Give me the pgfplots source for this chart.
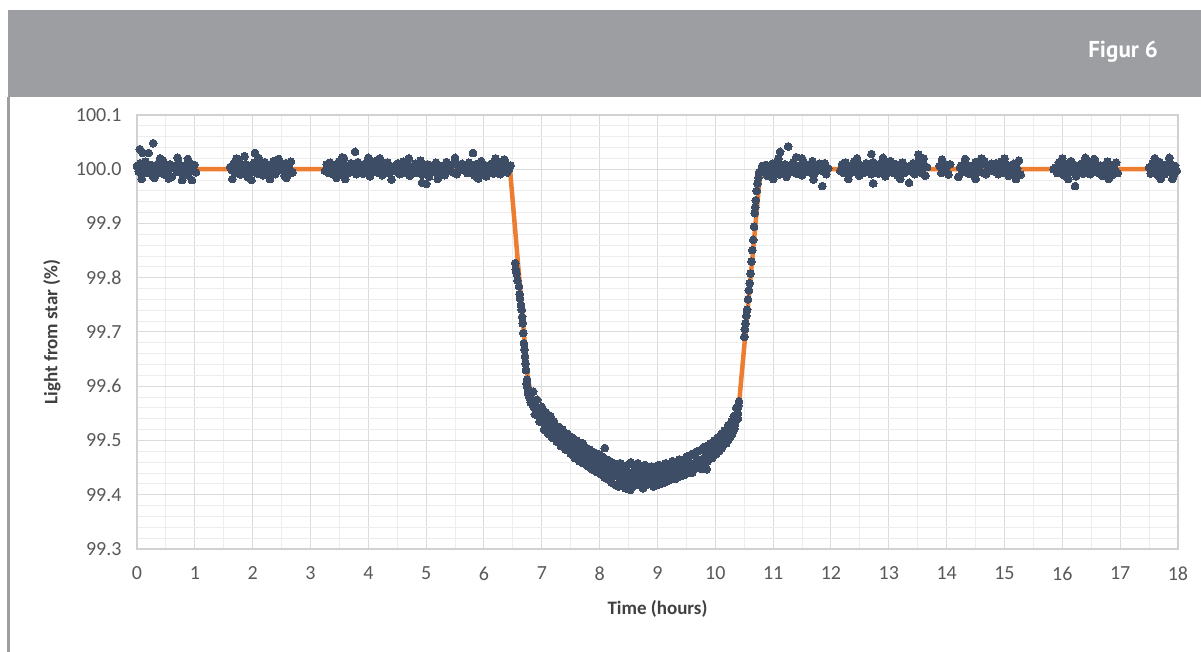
\documentclass[border=0pt]{standalone}
\usepackage{pgfplots}
\pgfplotsset{compat=1.18}
\usepackage{pgfplotstable}
\usepackage{fontspec}
\setmainfont{Carlito}
\newfontfamily\figfont{PT Sans}
\definecolor{hdr}{HTML}{9D9EA2}
\definecolor{dotc}{HTML}{3D4D66}
\definecolor{lineo}{HTML}{ED7D31}
\definecolor{tickc}{HTML}{595959}
\definecolor{labc}{HTML}{404040}

\pgfplotstableread{
t v
0 100.000
6.45 100.000
6.76 99.610
6.85 99.575
7.0 99.545
7.2 99.515
7.5 99.488
8.0 99.456
8.5 99.440
9.0 99.436
9.5 99.446
10.0 99.472
10.2 99.498
10.3 99.525
10.38 99.560
10.42 99.580
10.76 99.975
10.80 100.000
18 100.000
}\model

\pgfplotstableread{
t v
0.00 100.006
0.03 99.996
0.06 100.011
0.09 99.991
0.12 100.002
0.15 100.014
0.18 99.994
0.21 100.000
0.24 100.008
0.27 99.988
0.30 100.004
0.33 99.998
0.36 100.010
0.39 99.993
0.42 100.001
0.45 100.016
0.48 99.990
0.51 100.005
0.54 99.997
0.57 100.009
0.60 99.986
0.63 100.003
0.66 100.007
0.69 99.995
0.72 100.012
0.75 99.999
0.78 99.992
0.81 100.006
0.84 100.000
0.87 99.989
0.90 100.013
0.93 99.996
0.96 100.002
0.99 100.008
1.02 99.994
0.05 100.037
0.10 100.030
0.20 100.030
0.28 100.048
0.30 99.984
0.78 99.980
0.95 99.980
0.08 99.982
0.40 100.020
0.55 99.983
0.70 100.021
0.88 100.019
1.61 100.004
1.64 99.998
1.67 100.010
1.70 99.993
1.73 100.001
1.76 100.016
1.79 99.990
1.82 100.005
1.85 99.997
1.88 100.009
1.91 99.986
1.94 100.003
1.97 100.007
2.00 99.995
2.03 100.012
2.06 99.999
2.09 99.992
2.12 100.006
2.15 100.000
2.18 99.989
2.21 100.013
2.24 99.996
2.27 100.002
2.30 100.008
2.33 99.994
2.36 100.015
2.39 99.991
2.42 100.004
2.45 99.998
2.48 100.010
2.51 100.006
2.54 99.996
2.57 100.011
2.60 99.991
2.63 100.002
2.66 100.014
2.69 99.994
1.65 99.982
1.98 99.980
2.04 100.030
1.86 100.024
2.58 99.984
2.55 99.988
1.72 100.020
2.10 100.021
2.30 99.982
2.45 100.019
3.25 99.997
3.28 100.009
3.31 99.993
3.34 100.012
3.37 100.001
3.40 99.990
3.43 100.005
3.46 99.999
3.49 100.014
3.52 99.995
3.55 100.003
3.58 99.988
3.61 100.007
3.64 100.000
3.67 99.994
3.70 100.011
3.73 99.998
3.76 100.006
3.79 99.991
3.82 100.013
3.85 99.996
3.88 100.002
3.91 99.992
3.94 100.010
3.97 99.999
4.00 100.004
4.03 99.987
4.06 100.008
4.09 99.997
4.12 100.015
4.15 99.994
4.18 100.001
4.21 100.009
4.24 99.989
4.27 100.005
4.30 99.998
4.33 100.012
4.36 99.993
4.39 100.003
4.42 100.000
4.45 100.006
4.48 99.996
4.51 100.011
4.54 99.991
4.57 100.002
4.60 100.014
4.63 99.994
4.66 100.000
4.69 100.008
4.72 99.988
4.75 100.004
4.78 99.998
4.81 100.010
4.84 99.993
4.87 100.001
4.90 100.016
4.93 99.990
4.96 100.005
4.99 99.997
5.02 100.009
5.05 99.986
5.08 100.003
5.11 100.007
5.14 99.995
5.17 100.012
5.20 99.999
5.23 99.992
5.26 100.006
5.29 100.000
5.32 99.989
5.35 100.013
5.38 99.996
5.41 100.002
5.44 100.008
5.47 99.994
5.50 100.015
5.53 99.991
5.56 100.004
5.59 99.998
5.62 100.010
5.65 100.000
5.68 100.003
5.71 99.993
5.74 100.012
5.77 99.998
5.80 100.005
5.83 99.989
5.86 100.009
5.89 100.001
5.92 99.994
5.95 100.015
5.98 99.997
6.01 100.008
6.04 99.987
6.07 100.004
6.10 99.999
6.13 100.010
6.16 99.992
6.19 100.002
6.22 99.996
6.25 100.013
6.28 99.991
6.31 100.006
6.34 99.998
6.37 100.011
6.40 99.994
6.43 100.000
6.46 100.007
3.45 99.984
3.55 100.022
3.77 100.032
3.58 100.020
4.93 99.975
5.00 99.973
5.81 100.030
4.20 100.020
6.35 100.018
3.60 99.982
4.00 100.021
4.40 99.981
4.70 100.020
5.20 99.982
5.50 100.021
5.90 99.983
6.20 100.020
6.54 99.827
6.55 99.815
6.565 99.808
6.58 99.795
6.606 99.784
6.615 99.770
6.623 99.762
6.64 99.750
6.652 99.741
6.66 99.728
6.67 99.716
6.68 99.698
6.69 99.679
6.70 99.668
6.71 99.655
6.718 99.642
6.726 99.630
6.737 99.605
6.745 99.612
6.75 99.598
6.76 99.590
6.77 99.585
6.78 99.592
6.79 99.578
6.80 99.583
6.81 99.570
6.82 99.575
6.84 99.566
6.85 99.574
6.87 99.560
6.89 99.565
6.91 99.552
6.93 99.558
6.95 99.545
6.97 99.553
7.00 99.540
7.02 99.548
7.05 99.530
7.08 99.538
7.10 99.524
7.13 99.533
7.16 99.518
7.19 99.527
7.22 99.510
7.25 99.520
7.28 99.503
7.31 99.512
7.34 99.498
7.37 99.507
7.40 99.495
7.43 99.502
7.46 99.489
7.49 99.500
7.52 99.485
7.55 99.494
7.58 99.478
7.61 99.490
7.64 99.481
7.67 99.488
7.70 99.472
7.71 99.495
7.73 99.480
7.76 99.466
7.79 99.475
7.82 99.462
7.85 99.472
7.88 99.458
7.91 99.468
7.94 99.454
7.97 99.463
8.00 99.450
8.03 99.460
8.06 99.445
8.09 99.486
8.10 99.455
8.13 99.442
8.16 99.452
8.19 99.438
8.22 99.448
8.25 99.434
8.28 99.450
8.31 99.440
8.34 99.430
8.37 99.446
8.40 99.436
8.43 99.425
8.46 99.444
8.49 99.433
8.52 99.420
8.53 99.409
8.55 99.440
8.58 99.428
8.61 99.438
8.64 99.426
8.67 99.445
8.70 99.432
8.73 99.420
8.76 99.440
8.79 99.429
8.82 99.447
8.85 99.424
8.88 99.436
8.91 99.418
8.94 99.441
8.97 99.430
9.00 99.422
9.03 99.440
9.06 99.430
9.09 99.446
9.12 99.434
9.15 99.425
9.18 99.443
9.21 99.436
9.24 99.450
9.27 99.438
9.30 99.429
9.33 99.447
9.36 99.440
9.39 99.455
9.42 99.443
9.45 99.436
9.48 99.452
9.51 99.446
9.54 99.460
9.57 99.448
9.60 99.441
9.63 99.458
9.66 99.452
9.69 99.466
9.72 99.455
9.75 99.448
9.78 99.466
9.81 99.460
9.84 99.474
9.85 99.447
9.87 99.462
9.90 99.478
9.93 99.470
9.96 99.484
9.99 99.474
10.02 99.490
10.05 99.480
10.08 99.495
10.11 99.486
10.14 99.502
10.17 99.494
10.20 99.510
10.23 99.502
10.26 99.520
10.29 99.512
10.31 99.530
10.33 99.522
10.35 99.545
10.37 99.538
10.38 99.558
10.39 99.550
10.40 99.565
10.41 99.572
6.85 99.590
6.88 99.548
6.92 99.575
6.96 99.535
7.00 99.562
7.04 99.520
7.07 99.552
7.11 99.512
7.15 99.545
7.18 99.505
7.21 99.535
7.26 99.498
7.30 99.525
7.33 99.490
7.36 99.520
7.41 99.483
7.45 99.512
7.50 99.476
7.53 99.505
7.57 99.468
7.60 99.500
7.65 99.462
7.68 99.495
7.72 99.458
7.75 99.488
7.80 99.452
7.83 99.483
7.87 99.447
7.90 99.478
7.95 99.442
7.98 99.475
8.02 99.438
8.05 99.470
8.08 99.432
8.12 99.465
8.15 99.428
8.18 99.462
8.21 99.422
8.24 99.458
8.27 99.418
8.30 99.455
8.33 99.415
8.36 99.458
8.39 99.420
8.42 99.452
8.45 99.412
8.48 99.455
8.51 99.430
8.54 99.460
8.57 99.415
8.60 99.452
8.63 99.418
8.66 99.458
8.69 99.422
8.72 99.450
8.75 99.412
8.78 99.455
8.81 99.418
8.84 99.450
8.87 99.420
8.90 99.452
8.93 99.415
8.96 99.448
8.99 99.418
9.02 99.455
9.05 99.420
9.08 99.452
9.11 99.422
9.14 99.458
9.17 99.425
9.20 99.455
9.23 99.428
9.26 99.462
9.29 99.430
9.32 99.458
9.35 99.432
9.38 99.465
9.41 99.435
9.44 99.462
9.47 99.438
9.50 99.470
9.53 99.440
9.56 99.472
9.59 99.445
9.62 99.476
9.65 99.448
9.68 99.480
9.71 99.452
9.74 99.482
9.77 99.455
9.80 99.488
9.83 99.460
9.86 99.490
9.89 99.465
9.92 99.495
9.95 99.468
9.98 99.500
10.01 99.475
10.04 99.505
10.07 99.482
10.10 99.512
10.13 99.490
10.16 99.518
10.19 99.495
10.22 99.528
10.25 99.505
10.28 99.535
10.30 99.515
10.32 99.545
10.34 99.530
10.36 99.560
10.39 99.540
10.50 99.691
10.51 99.705
10.52 99.716
10.535 99.730
10.55 99.741
10.565 99.760
10.58 99.777
10.595 99.790
10.61 99.808
10.625 99.830
10.64 99.851
10.655 99.870
10.67 99.894
10.68 99.919
10.69 99.930
10.70 99.943
10.715 99.960
10.73 99.974
10.745 99.985
10.76 99.995
10.78 99.994
10.81 100.006
10.84 100.000
10.87 100.008
10.90 99.988
10.93 100.004
10.96 99.998
10.99 100.010
11.02 99.993
11.05 100.001
11.08 100.016
11.11 99.990
11.14 100.005
11.17 99.997
11.20 100.009
11.23 99.986
11.26 100.003
11.29 100.007
11.32 99.995
11.35 100.012
11.38 99.999
11.41 99.992
11.44 100.006
11.47 100.000
11.50 99.989
11.53 100.013
11.56 99.996
11.59 100.002
11.62 100.008
11.65 99.994
11.68 100.015
11.71 99.991
11.74 100.004
11.77 99.998
11.80 100.010
11.83 100.006
11.86 99.996
11.89 100.011
11.92 99.991
11.95 100.002
11.09 100.020
11.12 100.032
11.26 100.042
11.85 99.969
11.50 100.020
11.00 99.982
11.40 100.022
11.70 99.981
12.16 99.997
12.19 100.009
12.22 99.993
12.25 100.012
12.28 100.001
12.31 99.990
12.34 100.005
12.37 99.999
12.40 100.014
12.43 99.995
12.46 100.003
12.49 99.988
12.52 100.007
12.55 100.000
12.58 99.994
12.61 100.011
12.64 99.998
12.67 100.006
12.70 99.991
12.73 100.013
12.76 99.996
12.79 100.002
12.82 99.992
12.85 100.010
12.88 99.999
12.91 100.004
12.94 99.987
12.97 100.008
13.00 99.997
13.03 100.015
13.06 99.994
13.09 100.001
13.12 100.009
13.15 99.989
13.18 100.005
13.21 99.998
13.24 100.012
13.27 99.993
13.30 100.003
13.33 100.000
13.36 100.006
13.39 99.996
13.42 100.011
13.45 99.991
13.48 100.002
13.51 100.014
13.54 99.994
13.57 100.000
13.60 100.008
13.63 99.988
13.66 100.004
12.70 100.028
13.51 100.027
12.73 99.974
13.35 99.975
12.45 100.020
12.30 99.982
12.90 100.021
13.20 99.982
13.60 100.020
13.88 100.006
13.91 99.993
13.94 100.012
13.97 99.998
14.00 100.004
14.03 99.990
14.06 100.009
13.92 100.018
14.20 99.986
14.23 100.003
14.26 100.007
14.29 99.995
14.32 100.012
14.35 99.999
14.38 99.992
14.41 100.006
14.44 100.000
14.47 99.989
14.50 100.013
14.53 99.996
14.56 100.002
14.59 100.008
14.62 99.994
14.65 100.015
14.68 99.991
14.71 100.004
14.74 99.998
14.77 100.010
14.80 100.006
14.83 99.996
14.86 100.011
14.89 99.991
14.92 100.002
14.95 100.014
14.98 99.994
15.01 100.000
15.04 100.008
15.07 99.988
15.10 100.004
15.13 99.998
15.16 100.010
15.19 99.993
15.22 100.001
15.25 100.016
15.28 99.990
14.32 100.019
14.60 100.020
14.50 99.982
15.00 100.020
15.20 99.982
15.85 100.000
15.88 100.003
15.91 99.993
15.94 100.012
15.97 99.998
16.00 100.005
16.03 99.989
16.06 100.009
16.09 100.001
16.12 99.994
16.15 100.015
16.18 99.997
16.21 100.008
16.24 99.987
16.27 100.004
16.30 99.999
16.33 100.010
16.36 99.992
16.39 100.002
16.42 99.996
16.45 100.013
16.48 99.991
16.51 100.006
16.54 99.998
16.57 100.011
16.60 99.994
16.63 100.000
16.66 100.007
16.69 99.988
16.72 100.003
16.75 99.995
16.78 100.014
16.81 99.999
16.84 100.005
16.87 99.990
16.90 100.001
16.93 100.012
16.96 99.993
16.22 99.969
16.00 100.020
16.55 100.019
16.10 99.982
16.40 100.021
16.80 99.982
17.50 100.003
17.53 99.992
17.56 100.011
17.59 99.996
17.62 100.007
17.65 99.989
17.68 100.013
17.71 99.998
17.74 100.004
17.77 99.991
17.80 100.009
17.83 99.995
17.86 100.012
17.89 100.000
17.92 99.988
17.95 100.006
17.98 99.997
17.60 100.020
17.90 99.982
17.70 99.982
17.85 100.021
}\obs

\begin{document}
\begin{tikzpicture}
\useasboundingbox (0bp,0bp) rectangle (1201bp,652bp);
\fill[white] (0bp,0bp) rectangle (1201bp,652bp);
\fill[hdr] (8bp,555bp) rectangle (1201bp,642bp);
\draw[hdr, line width=2.5bp] (8.5bp,0bp) -- (8.5bp,555bp);
\node[anchor=east, text=white, font={\figfont\bfseries\fontsize{23bp}{26bp}\selectfont}, inner sep=0pt] at (1158bp,600bp) {Figur 6};
\begin{axis}[
  at={(137bp,103bp)}, anchor=south west,
  scale only axis, width=1041bp, height=434bp,
  xmin=0, xmax=18, ymin=99.3, ymax=100.1,
  xtick={0,1,...,18},
  ytick={99.3,99.4,99.5,99.6,99.7,99.8,99.9,100.0,100.1},
  minor x tick num=1, minor y tick num=4,
  grid=both,
  major grid style={draw=black!14, line width=1bp},
  minor grid style={draw=black!7, line width=0.9bp},
  axis line style={draw=black!18, line width=1.2bp},
  major tick length=0pt, minor tick length=0pt,
  tick style={draw=none},
  /pgf/number format/assume math mode=true,
  yticklabel style={/pgf/number format/fixed, /pgf/number format/fixed zerofill, /pgf/number format/precision=1},
  ticklabel style={font=\fontsize{20bp}{24bp}\selectfont, text=tickc},
  xticklabel style={yshift=-14bp},
  yticklabel style={xshift=-12bp},
  xlabel={Time (hours)}, ylabel={Light from star (\%)},
  label style={font=\bfseries\fontsize{19bp}{22bp}\selectfont, text=labc},
  xlabel style={at={(axis description cs:0.5,-0.138)}, anchor=center},
  ylabel style={at={(axis description cs:-0.0817,0.5)}, anchor=center},
  clip=false,
]
\addplot[lineo, line width=4.5bp, line join=round] table[x=t,y=v] {\model};
\addplot[only marks, mark=*, mark size=3.9bp, mark options={fill=dotc, draw=dotc, line width=0pt}] table[x=t,y=v] {\obs};
\end{axis}
\end{tikzpicture}
\end{document}
